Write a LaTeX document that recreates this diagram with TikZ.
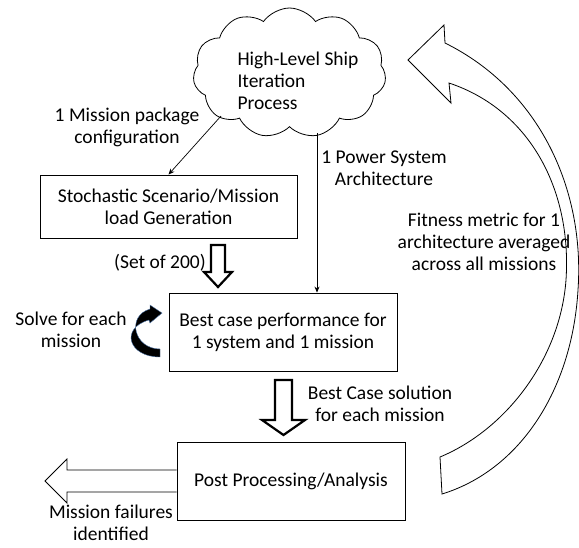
\documentclass[tikz,border=0pt]{standalone}
\usepackage{fontspec}
\setmainfont{Carlito}
\usetikzlibrary{shapes.symbols,arrows.meta}

\begin{document}
\begin{tikzpicture}[x=1pt, y=-1pt,
    every node/.style={font=\fontsize{19.5}{22}\selectfont, align=center},
    procbox/.style={draw, line width=0.9pt, inner sep=0pt},
    thinarrow/.style={-{Stealth[length=6pt,width=5pt]}, line width=0.7pt},
    blockarrow/.style={draw, line width=2.2pt, fill=white, line join=miter}]
    \useasboundingbox (0,0) rectangle (579,547);

    % Draw the cloud for the ship iteration
    \node[cloud, draw, cloud puffs=11, cloud puff arc=110, aspect=1.5,
          minimum width=193pt, minimum height=130pt, line width=0.8pt] (ship) at (289.5,73) {};
    \node[align=left] (shiptxt) at (298,81) {High-Level Ship\\Iteration\\Process};

    % Draw the three process boxes
    \node[procbox, minimum width=257pt, minimum height=63pt] (stoch) at (168.5,206.5)
        {Stochastic Scenario/Mission\\load Generation};
    \node[procbox, minimum width=228pt, minimum height=78pt] (best) at (283,332)
        {Best case performance for\\1 system and 1 mission};
    \node[procbox, minimum width=228pt, minimum height=78pt] (post) at (291,481)
        {Post Processing/Analysis};

    % Draw thin arrows from the cloud
    \coordinate (cfrom) at (221,116);
    \coordinate (pfrom) at (317,133);
    \draw[thinarrow] (cfrom) -- (stoch.north);
    \draw[thinarrow] (pfrom) -- (pfrom |- best.north);
    \node (pkg) at (127,127) {1 Mission package\\configuration};
    \node (arch) at (384,168) {1 Power System\\Architecture};

    % Draw the hollow block arrows
    \draw[blockarrow] (211,245) -- (225,245) -- (225,272) -- (232,272) -- (218,287)
        -- (204,272) -- (211,272) -- cycle;
    \node (set) at (160,263) {(Set of 200)};
    \draw[blockarrow] (275,380) -- (292,380) -- (292,420) -- (305,420) -- (283.5,435)
        -- (262,420) -- (275,420) -- cycle;
    \node (sol) at (380,404) {Best Case solution\\for each mission};

    % Draw the output arrow
    \draw[line width=0.8pt, fill=white] (post.west |- 0,470) -- (67,470) -- (67,459) -- (45,481)
        -- (67,503) -- (67,492) -- (post.west |- 0,492);
    \node (fail) at (111,523) {Mission failures\\identified};

    % Draw the loop arrow for each mission
    \fill[black, draw={rgb,1:red,0.3;green,0.45;blue,0.65}, line width=0.4pt]
        (160,357) .. controls (128,357) and (120,328) .. (149,320) -- (150,323) -- (162,313)
        -- (150,305) -- (150,309) .. controls (126,316) and (134,349) .. (160,349) -- cycle;
    \node (solve) at (71,330) {Solve for each\\mission};

    % Draw the big feedback arrow
    \draw[line width=0.8pt, fill=white] (408,60) -- (444,25) -- (445,43)
        .. controls (540,90) and (585,190) .. (578,290)
        .. controls (572,390) and (520,470) .. (442,494) -- (440,457)
        .. controls (505,430) and (560,360) .. (566,280)
        .. controls (572,190) and (530,110) .. (449,83) -- (451,103) -- cycle;
    \node (fit) at (484,242) {Fitness metric for 1\\architecture averaged\\across all missions};
\end{tikzpicture}
\end{document}
